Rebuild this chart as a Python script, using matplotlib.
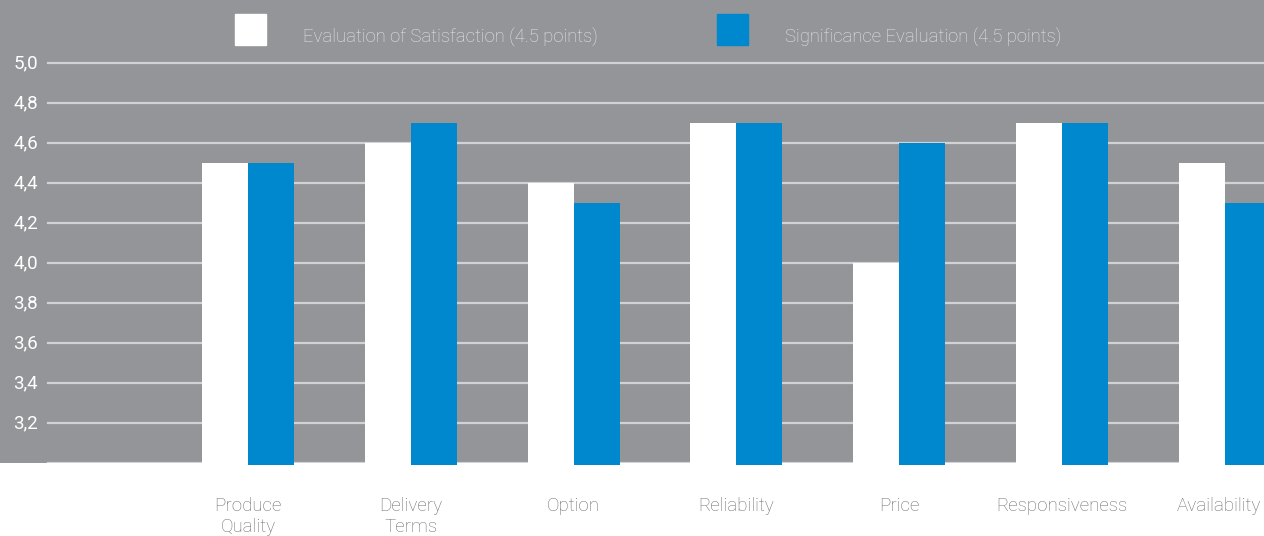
import numpy as np
import matplotlib
matplotlib.use("Agg")
from matplotlib import pyplot as plt
from matplotlib.patches import Rectangle

categories = ["Produce\nQuality", "Delivery\nTerms", "Option", "Reliability",
              "Price", "Responsiveness", "Availability"]
satisfaction = [4.5, 4.6, 4.4, 4.7, 4.0, 4.7, 4.5]
significance = [4.5, 4.7, 4.3, 4.7, 4.6, 4.7, 4.3]
series_names = ["Evaluation of Satisfaction (4.5 points)",
                "Significance Evaluation (4.5 points)"]
y_ticks = [3.2, 3.4, 3.6, 3.8, 4.0, 4.2, 4.4, 4.6, 4.8, 5.0]

GRAY = "#939598"
GRID = "#d1d2d4"
BLUE = "#0088cf"
W, H = 1264, 536

plt.rcParams['font.family'] = ['Roboto', 'DejaVu Sans']

fig = plt.figure(figsize=(W / 100, H / 100), dpi=100)
fig.patch.set_facecolor("white")

# axes fill the gray band: top of figure down to y=463px
ax = fig.add_axes([0, (H - 463) / H, 1, 463 / H])
ax.set_facecolor(GRAY)
for s in ax.spines.values():
    s.set_visible(False)
ax.set_xticks([])
ax.set_yticks([])

step = 162.75
x0 = 248
ax.set_xlim(-x0 / step, (W - x0) / step)
ax.set_ylim(3.0, 5.0 + 63 / 200)

# gridlines, starting a bit right of the labels
for t in [3.0] + y_ticks:
    ax.axhline(t, xmin=48 / W, xmax=1, color=GRID, lw=1.6, zorder=1)
    if t > 3.0:
        ax.text(38 / W, t, f"{t:.1f}".replace(".", ","), transform=ax.get_yaxis_transform(),
                ha="right", va="center", color="white", fontsize=13.5)

x = np.arange(len(categories))
bw = 46 / step
ax.bar(x - bw / 2, np.array(satisfaction) - 2.99, bw, bottom=2.99, color="white", zorder=2,
       clip_on=False)
ax.bar(x + bw / 2, np.array(significance) - 2.99, bw, bottom=2.99, color=BLUE, zorder=2,
       clip_on=False)

for i, name in enumerate(categories):
    # last label sits against the right edge like in the original
    if i == len(categories) - 1:
        ax.text(1 - 3 / W, 2.83, name, transform=ax.get_yaxis_transform(), ha="right",
                va="top", color="#6d6e71", fontsize=13.5, fontweight="light")
    else:
        ax.text(x[i], 2.83, name, ha="center", va="top", color="#6d6e71", fontsize=13.5,
                fontweight="light", linespacing=1.2)

# legend drawn by hand
for (sx, tx), col, name in zip([(235, 303), (717, 785)], ["white", BLUE], series_names):
    fig.patches.append(Rectangle((sx / W, 1 - 45 / H), 31 / W, 31 / H, transform=fig.transFigure,
                                 color=col))
    fig.text(tx / W, 1 - 37 / H, name, ha="left", va="center", color="#e6e7e8",
             fontsize=13.3, fontweight="light")

fig.savefig("out.png", dpi=100, facecolor=fig.get_facecolor())
